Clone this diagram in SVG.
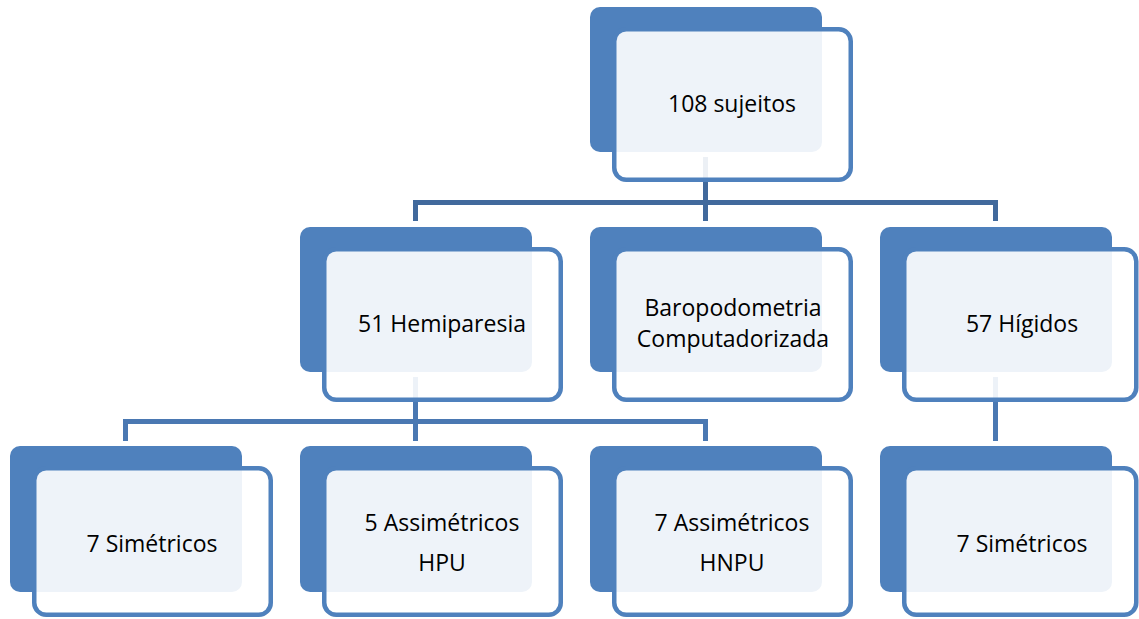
<svg xmlns="http://www.w3.org/2000/svg" width="1139" height="619" viewBox="0 0 1139 619">
<style>
.back{fill:#4F81BD;}
.front{fill:#FFFFFF;fill-opacity:0.9;stroke:#4F81BD;stroke-width:4.5;}
.conn1{fill:none;stroke:#41699C;stroke-width:5;}
.conn2{fill:none;stroke:#4A78B2;stroke-width:5;}
.t{font-family:"Open Sans","Liberation Sans",sans-serif;font-size:23px;fill:#000;text-anchor:middle;}
</style>
<rect width="1139" height="619" fill="#FFFFFF"/>
<g id="connectors">
<path class="conn1" d="M415.5,221 V202.5 H995.5 V221"/>
<path class="conn1" d="M705.5,157 V221"/>
<path class="conn2" d="M125.5,441 V421.5 H705.5 V441"/>
<path class="conn2" d="M415.5,377 V441"/>
<path class="conn2" d="M995.5,377 V441"/>
</g>
<g id="node-sujeitos">
<rect class="back" x="590" y="7" width="232" height="145" rx="10"/>
<rect class="front" x="614.25" y="29.25" width="236.5" height="150.5" rx="12"/>
<text class="t" x="732" y="112">108 sujeitos</text>
</g>
<g id="node-hemiparesia">
<rect class="back" x="300" y="227" width="232" height="145" rx="10"/>
<rect class="front" x="324.25" y="249.25" width="236.5" height="150.5" rx="12"/>
<text class="t" x="442" y="332">51 Hemiparesia</text>
</g>
<g id="node-baropodometria">
<rect class="back" x="590" y="227" width="232" height="145" rx="10"/>
<rect class="front" x="614.25" y="249.25" width="236.5" height="150.5" rx="12"/>
<text class="t" x="733" y="316">Baropodometria</text>
<text class="t" x="733" y="347">Computadorizada</text>
</g>
<g id="node-higidos">
<rect class="back" x="880" y="227" width="232" height="145" rx="10"/>
<rect class="front" x="904.25" y="249.25" width="232" height="150.5" rx="12"/>
<text class="t" x="1022" y="332">57 Hígidos</text>
</g>
<g id="node-simetricos-1">
<rect class="back" x="10" y="446" width="232" height="146" rx="10"/>
<rect class="front" x="34.25" y="468.25" width="236.5" height="146.5" rx="12"/>
<text class="t" x="152" y="552">7 Simétricos</text>
</g>
<g id="node-assimetricos-hpu">
<rect class="back" x="300" y="446" width="232" height="146" rx="10"/>
<rect class="front" x="324.25" y="468.25" width="236.5" height="146.5" rx="12"/>
<text class="t" x="442" y="531">5 Assimétricos</text>
<text class="t" x="442" y="571">HPU</text>
</g>
<g id="node-assimetricos-hnpu">
<rect class="back" x="590" y="446" width="232" height="146" rx="10"/>
<rect class="front" x="614.25" y="468.25" width="236.5" height="146.5" rx="12"/>
<text class="t" x="732" y="531">7 Assimétricos</text>
<text class="t" x="732" y="571">HNPU</text>
</g>
<g id="node-simetricos-2">
<rect class="back" x="880" y="446" width="232" height="146" rx="10"/>
<rect class="front" x="904.25" y="468.25" width="232" height="146.5" rx="12"/>
<text class="t" x="1022" y="552">7 Simétricos</text>
</g>
</svg>
